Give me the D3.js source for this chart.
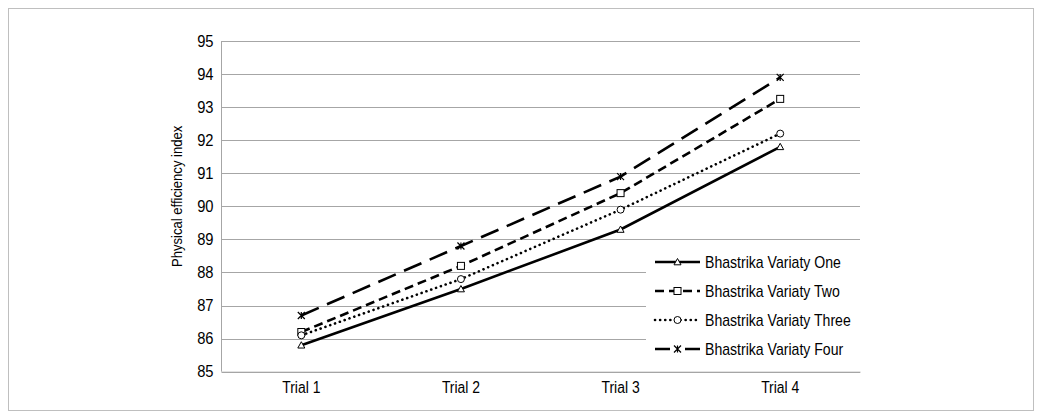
<!DOCTYPE html>
<html><head><meta charset="utf-8">
<script src="https://cdn.jsdelivr.net/npm/d3@7"></script>
<style>body{margin:0;background:#fff}svg text{font-family:"Liberation Sans",Arial,sans-serif;fill:#000}</style>
</head><body><svg id="c" width="1042" height="419"></svg>
<script>
const categories = ["Trial 1","Trial 2","Trial 3","Trial 4"];
const seriesNames = ["Bhastrika Variaty One","Bhastrika Variaty Two","Bhastrika Variaty Three","Bhastrika Variaty Four"];
const variatyOne = [85.8, 87.5, 89.3, 91.8];
const variatyTwo = [86.2, 88.2, 90.4, 93.25];
const variatyThree = [86.1, 87.8, 89.9, 92.2];
const variatyFour = [86.7, 88.8, 90.9, 93.9];
const yTicks = [85,86,87,88,89,90,91,92,93,94,95];
const yTitle = "Physical efficiency index";

const seriesValues = [variatyOne, variatyTwo, variatyThree, variatyFour];
const styles = [
  {dash:null, legendDash:null, cap:"butt", marker:"triangle"},
  {dash:"9,5", legendDash:"9,5", cap:"butt", marker:"square"},
  {dash:"0.1,5", legendDash:"0.1,5", cap:"round", marker:"circle"},
  {dash:"19,9", legendDash:"15,15,15", cap:"butt", marker:"star"}
];
const NARROW = 0.87;

const svg = d3.select("#c");
svg.append("rect").attr("x",8.5).attr("y",8.5).attr("width",1025).attr("height",402)
  .attr("fill","#fff").attr("stroke","#bfbfbf");

const L=221.5, R=860, T=41, B=371.7;
const x = d3.scaleBand().domain(categories).range([L,R]);
const y = d3.scaleLinear().domain([85,95]).range([B,T]);

const g = svg.append("g");
g.selectAll("line.grid").data(yTicks).join("line")
  .attr("x1",L).attr("x2",R).attr("y1",d=>Math.round(y(d))+0.5).attr("y2",d=>Math.round(y(d))+0.5)
  .attr("stroke","#a6a6a6").attr("stroke-width",1);
g.append("line").attr("x1",L).attr("x2",L).attr("y1",T).attr("y2",B).attr("stroke","#a6a6a6");

const yAxis = d3.axisLeft(y).tickValues(yTicks).tickSize(0).tickPadding(8);
const ya = svg.append("g").attr("transform",`translate(${L},0)`).call(yAxis);
ya.select(".domain").remove();
ya.selectAll("text").attr("font-size",16).style("font-family",'"Liberation Sans",Arial,sans-serif')
  .attr("x",null).attr("transform",`translate(-8,0) scale(0.92,1)`);

const xAxis = d3.axisBottom(x).tickSize(0).tickPadding(10);
const xa = svg.append("g").attr("transform",`translate(0,${B})`).call(xAxis);
xa.select(".domain").attr("stroke","#a6a6a6");
xa.selectAll("text").attr("font-size",16).style("font-family",'"Liberation Sans",Arial,sans-serif')
  .attr("transform",`scale(${NARROW},1)`);

svg.append("text").attr("transform",`translate(182,${(T+B)/2 - 10}) rotate(-90) scale(${NARROW},1)`)
  .attr("text-anchor","middle").attr("font-size",15).text(yTitle);

const line = d3.line().x((d,i)=>x(categories[i])+x.bandwidth()/2).y(d=>y(d));

function drawMarker(sel, type, cx, cy){
  const s=3.5;
  if(type==="triangle") sel.append("path").attr("d",`M${cx},${cy-s}L${cx+s},${cy+s*0.8}L${cx-s},${cy+s*0.8}Z`).attr("fill","#fff").attr("stroke","#000").attr("stroke-width",1);
  else if(type==="square") sel.append("rect").attr("x",cx-s).attr("y",cy-s).attr("width",2*s).attr("height",2*s).attr("fill","#fff").attr("stroke","#000").attr("stroke-width",1);
  else if(type==="circle") sel.append("circle").attr("cx",cx).attr("cy",cy).attr("r",s).attr("fill","#fff").attr("stroke","#000").attr("stroke-width",1);
  else {
    sel.append("path").attr("d",`M${cx-s},${cy-s}L${cx+s},${cy+s}M${cx-s},${cy+s}L${cx+s},${cy-s}M${cx},${cy-s}L${cx},${cy+s}`).attr("stroke","#000").attr("stroke-width",1.2);
  }
}

seriesValues.forEach((vals,k)=>{
  const st=styles[k];
  const p = svg.append("path").datum(vals).attr("d",line).attr("fill","none")
    .attr("stroke","#000").attr("stroke-width",2.6).attr("stroke-linecap",st.cap);
  if(st.dash) p.attr("stroke-dasharray",st.dash);
  vals.forEach((v,i)=>drawMarker(svg, st.marker, x(categories[i])+x.bandwidth()/2, y(v)));
});

const lg = svg.append("g");
lg.append("rect").attr("x",646).attr("y",249).attr("width",R-646).attr("height",114).attr("fill","#fff");
const rows=[262,291,320,349];
seriesNames.forEach((n,k)=>{
  const st=styles[k]; const yy=rows[k];
  const l=lg.append("line").attr("x1",655).attr("x2",700).attr("y1",yy).attr("y2",yy)
    .attr("stroke","#000").attr("stroke-width",2.6).attr("stroke-linecap",st.cap);
  if(st.legendDash) l.attr("stroke-dasharray",st.legendDash);
  drawMarker(lg, st.marker, 677.5, yy);
  lg.append("text").attr("transform",`translate(705,${yy}) scale(0.88,1)`).attr("dy","0.35em").attr("font-size",16).text(n);
});
</script></body></html>
